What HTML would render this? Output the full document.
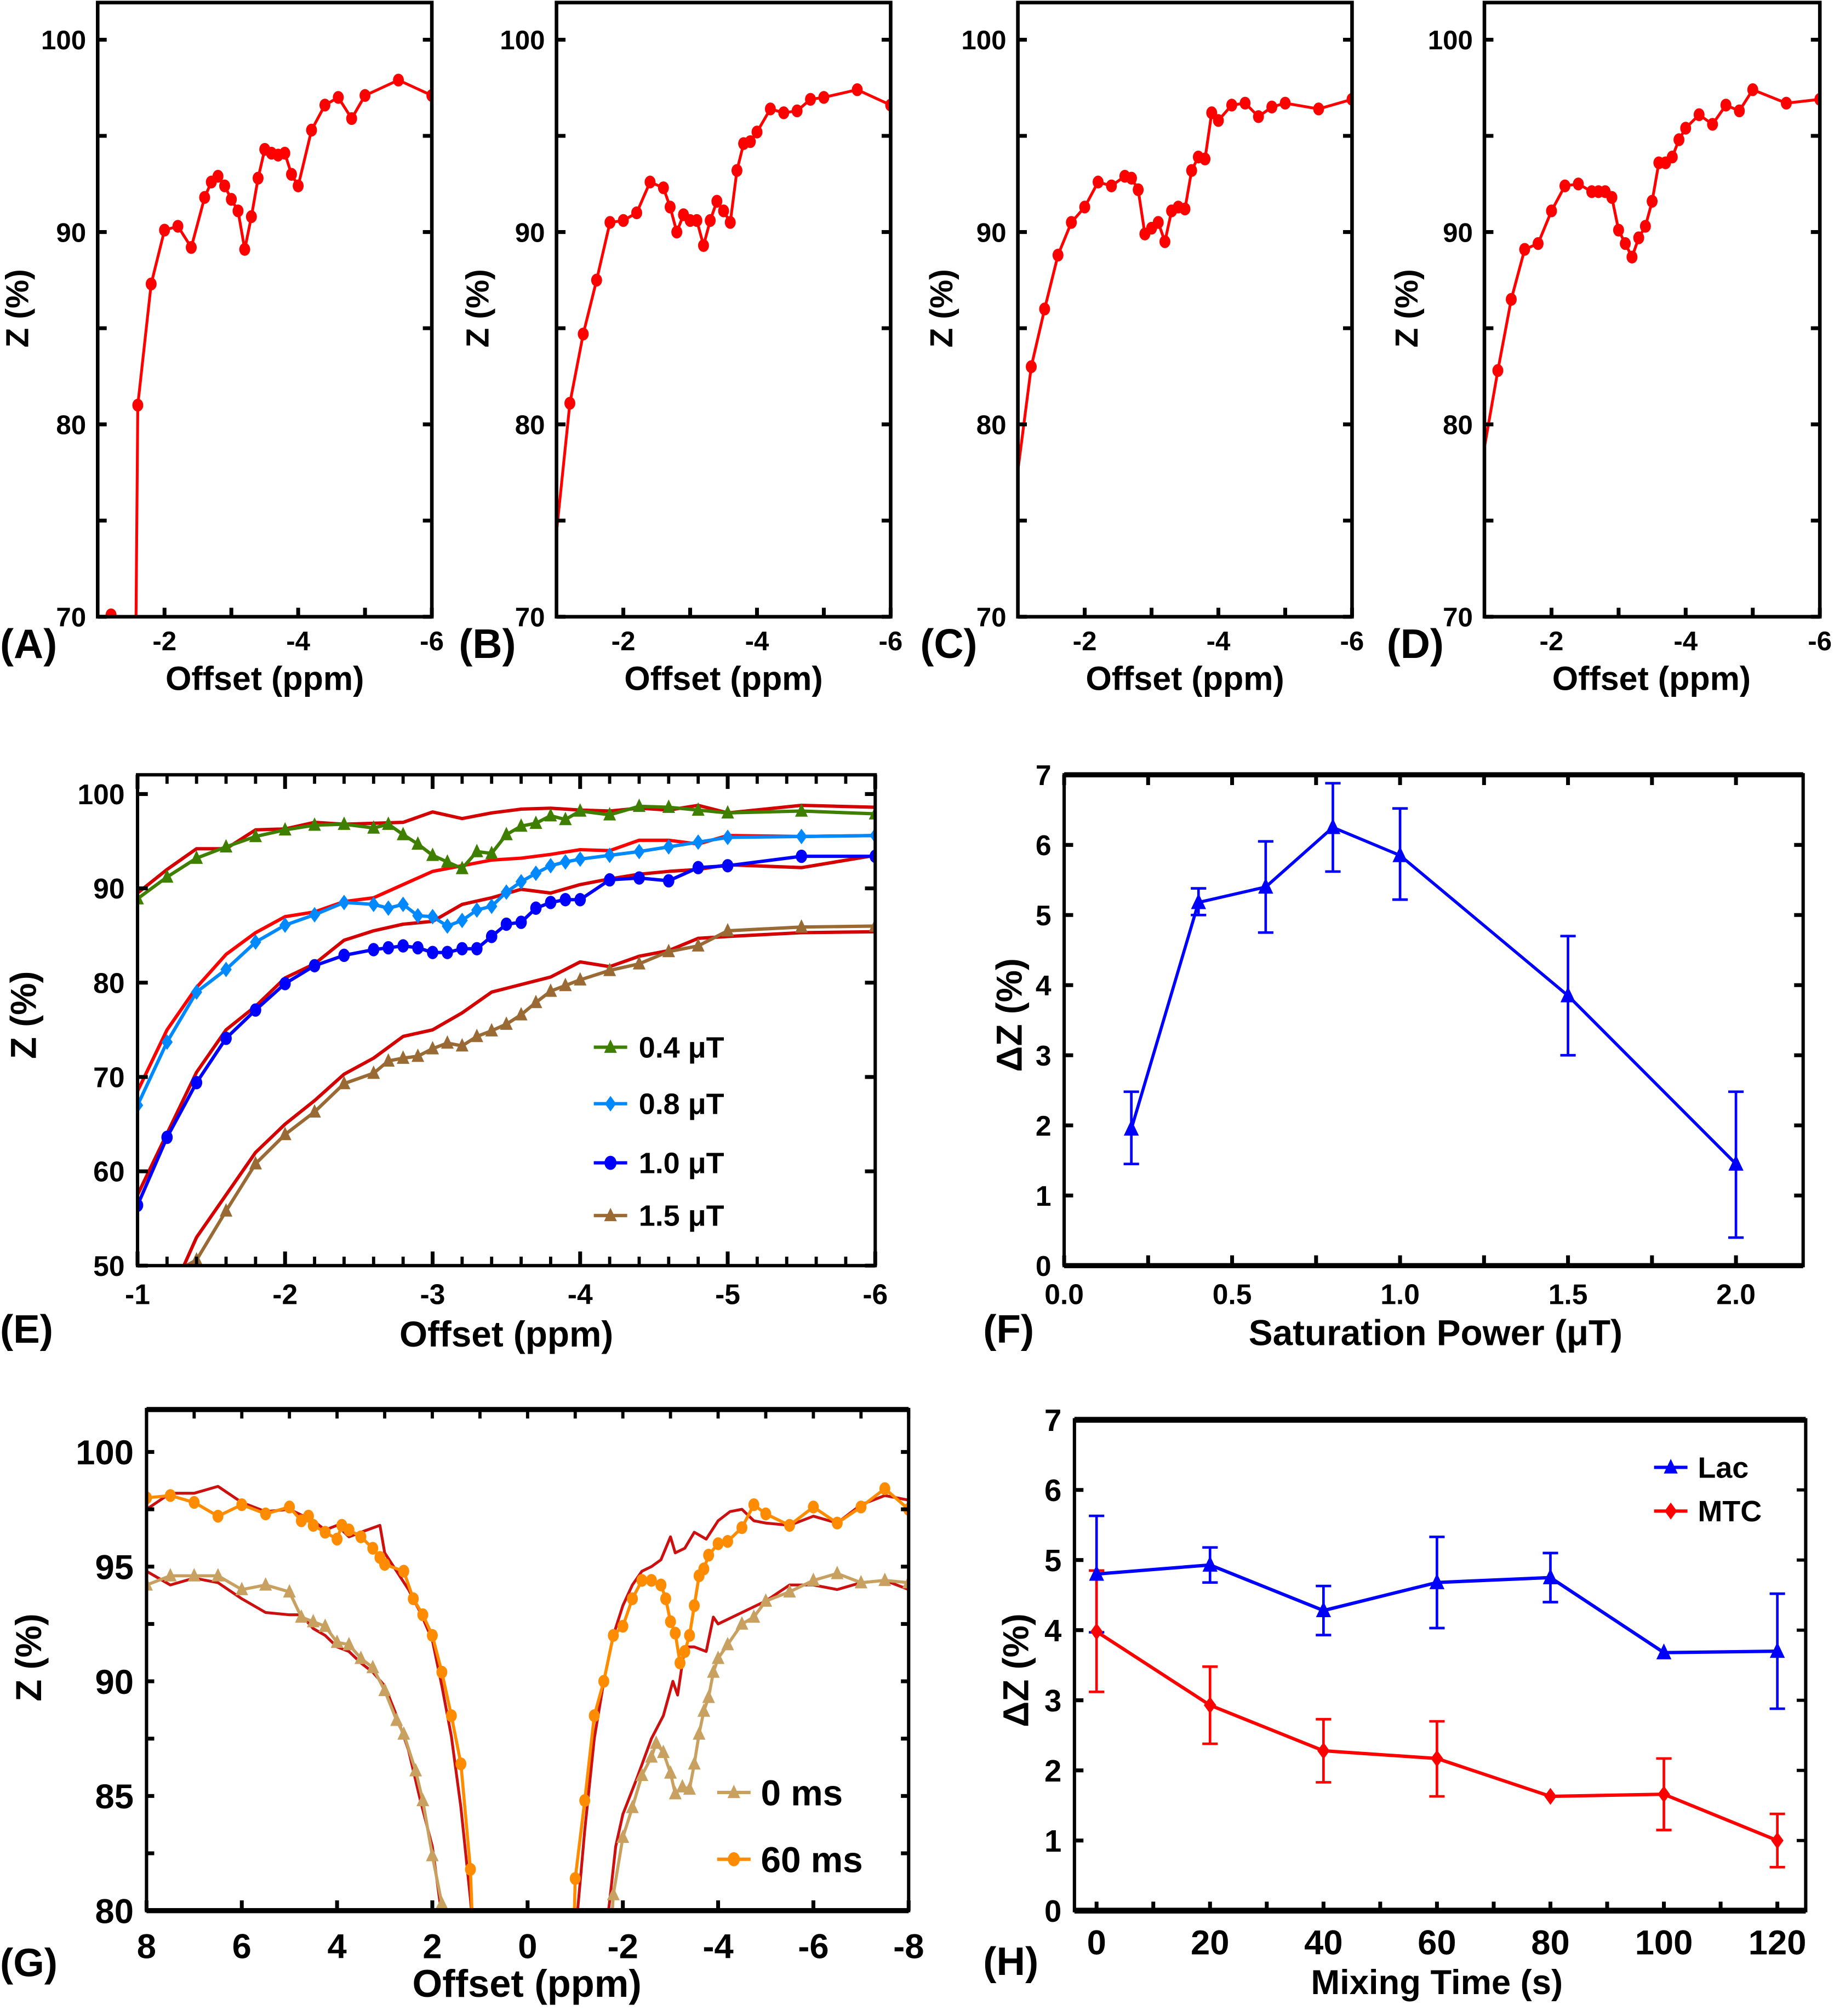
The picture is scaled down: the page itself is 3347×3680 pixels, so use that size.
<!DOCTYPE html>
<html><head><meta charset="utf-8">
<style>
html,body{margin:0;padding:0;background:#fff;}
svg{display:block;}
text{font-family:"Liberation Sans",Arial,sans-serif;font-weight:bold;fill:#000;}
</style></head>
<body>
<svg id="fig" xmlns="http://www.w3.org/2000/svg" width="3347" height="3680" viewBox="0 0 1427 1569"></svg>
<script>
// ---- Panel A-D data ----
const offA=[-1.2,-1.6,-1.8,-2.0,-2.2,-2.4,-2.6,-2.7,-2.8,-2.9,-3.0,-3.1,-3.2,-3.3,-3.4,-3.5,-3.6,-3.7,-3.8,-3.9,-4.0,-4.2,-4.4,-4.6,-4.8,-5.0,-5.5,-6.0];
const zA=[70.1,81.0,87.3,90.1,90.3,89.2,91.8,92.6,92.9,92.4,91.7,91.1,89.1,90.8,92.8,94.3,94.1,94.0,94.1,93.0,92.4,95.3,96.6,97.0,95.9,97.1,97.9,97.1];
const offB=[-1.2,-1.4,-1.6,-1.8,-2.0,-2.2,-2.4,-2.6,-2.7,-2.8,-2.9,-3.0,-3.1,-3.2,-3.3,-3.4,-3.5,-3.6,-3.7,-3.8,-3.9,-4.0,-4.2,-4.4,-4.6,-4.8,-5.0,-5.5,-6.0];
const zB=[81.1,84.7,87.5,90.5,90.6,91.0,92.6,92.3,91.3,90.0,90.9,90.6,90.6,89.3,90.6,91.6,91.1,90.5,93.2,94.6,94.7,95.2,96.4,96.2,96.3,96.9,97.0,97.4,96.6];
const offC=[-1.2,-1.4,-1.6,-1.8,-2.0,-2.2,-2.4,-2.6,-2.7,-2.8,-2.9,-3.0,-3.1,-3.2,-3.3,-3.4,-3.5,-3.6,-3.7,-3.8,-3.9,-4.0,-4.2,-4.4,-4.6,-4.8,-5.0,-5.5,-6.0];
const zC=[83.0,86.0,88.8,90.5,91.3,92.6,92.4,92.9,92.8,92.2,89.9,90.2,90.5,89.5,91.1,91.3,91.2,93.2,93.9,93.8,96.2,95.8,96.6,96.7,96.0,96.5,96.7,96.4,96.9];
const offD=[-1.2,-1.4,-1.6,-1.8,-2.0,-2.2,-2.4,-2.6,-2.7,-2.8,-2.9,-3.0,-3.1,-3.2,-3.3,-3.4,-3.5,-3.6,-3.7,-3.8,-3.9,-4.0,-4.2,-4.4,-4.6,-4.8,-5.0,-5.5,-6.0];
const zD=[82.8,86.5,89.1,89.4,91.1,92.4,92.5,92.1,92.1,92.1,91.8,90.1,89.4,88.7,89.7,90.3,91.6,93.6,93.6,93.9,94.8,95.4,96.1,95.6,96.6,96.3,97.4,96.7,96.9];
const leadA=[[-1.55,60],[-1.6,81.0]];
const leadB=[[-1.0,74.4],[-1.2,81.1]];
const leadC=[[-1.0,77.6],[-1.2,83.0]];
const leadD=[[-1.0,78.8],[-1.2,82.8]];

// ---- Panel E data ----
const offE=[-1.0,-1.2,-1.4,-1.6,-1.8,-2.0,-2.2,-2.4,-2.6,-2.7,-2.8,-2.9,-3.0,-3.1,-3.2,-3.3,-3.4,-3.5,-3.6,-3.7,-3.8,-3.9,-4.0,-4.2,-4.4,-4.6,-4.8,-5.0,-5.5,-6.0];
const zE04=[88.9,91.2,93.2,94.4,95.5,96.2,96.7,96.8,96.4,96.8,95.7,94.7,93.5,92.8,92.1,93.9,93.7,95.7,96.6,96.9,97.7,97.3,98.2,97.8,98.7,98.6,98.3,98.0,98.2,97.9];
const zE08=[67.0,73.7,79.0,81.4,84.3,86.1,87.2,88.5,88.3,87.9,88.3,87.1,87.0,86.0,86.6,87.7,88.1,89.6,90.7,91.6,92.4,92.8,93.1,93.5,93.9,94.4,94.9,95.4,95.5,95.6];
const zE10=[56.4,63.6,69.4,74.1,77.1,79.9,81.8,82.9,83.5,83.7,83.9,83.7,83.2,83.2,83.6,83.6,84.9,86.2,86.4,87.9,88.5,88.8,88.8,90.9,91.1,90.8,92.2,92.4,93.4,93.4];
const offE15=[-1.4,-1.6,-1.8,-2.0,-2.2,-2.4,-2.6,-2.7,-2.8,-2.9,-3.0,-3.1,-3.2,-3.3,-3.4,-3.5,-3.6,-3.7,-3.8,-3.9,-4.0,-4.2,-4.4,-4.6,-4.8,-5.0,-5.5,-6.0];
const zE15=[50.6,55.8,60.8,63.9,66.3,69.3,70.4,71.7,72.0,72.2,73.0,73.6,73.3,74.3,74.9,75.6,76.6,77.9,79.1,79.7,80.3,81.3,82.0,83.3,83.9,85.5,85.9,86.0];
const offFit=[-1.0,-1.2,-1.4,-1.6,-1.8,-2.0,-2.2,-2.4,-2.6,-2.8,-3.0,-3.2,-3.4,-3.6,-3.8,-4.0,-4.2,-4.4,-4.6,-4.8,-5.0,-5.5,-6.0];
const fit04=[89.5,92.0,94.2,94.2,96.2,96.3,97.0,96.8,96.9,97.0,98.1,97.4,98.0,98.4,98.5,98.3,98.2,98.5,98.3,98.8,98.0,98.8,98.6];
const fit08=[68.5,75.0,79.5,83.0,85.3,87.0,87.5,88.6,89.0,90.4,91.8,92.4,93.0,93.2,93.6,94.1,94.0,95.1,95.1,94.7,95.6,95.5,95.6];
const fit10=[57.5,64.0,70.5,75.0,77.5,80.5,82.0,84.5,85.5,86.2,86.5,88.3,89.0,89.9,89.5,90.4,91.0,91.5,91.8,92.0,92.5,92.2,93.5];
const fit15=[40.0,46.0,53.0,57.5,62.0,65.0,67.5,70.3,72.0,74.3,75.0,76.8,79.0,79.8,80.6,82.2,81.7,82.8,83.4,84.7,84.9,85.3,85.4];

// ---- Panel F data ----
const powF=[0.2,0.4,0.6,0.8,1.0,1.5,2.0];
const dzF=[1.95,5.18,5.4,6.25,5.85,3.85,1.45];
const loF=[1.45,5.0,4.75,5.62,5.22,3.0,0.4];
const hiF=[2.48,5.38,6.05,6.88,6.52,4.7,2.48];

// ---- Panel G data ----
const offG0=[8,7.5,7,6.5,6,5.5,5,4.75,4.5,4.25,4,3.75,3.5,3.25,3,2.75,2.6,2.35,2.2,2,1.8,-1.8,-2,-2.2,-2.4,-2.6,-2.7,-2.85,-3,-3.1,-3.25,-3.4,-3.5,-3.6,-3.7,-3.8,-3.9,-4,-4.2,-4.5,-4.75,-5,-5.5,-6,-6.5,-7,-7.5,-8];
const zG0=[94.2,94.6,94.6,94.6,94.0,94.2,93.9,92.8,92.6,92.4,91.7,91.6,91.0,90.6,89.6,88.3,87.7,86.1,84.8,82.4,80.3,80.7,83.2,84.5,85.9,86.7,87.3,86.9,86.0,85.1,85.4,85.3,86.4,87.7,88.7,89.3,90.4,91.0,91.6,92.5,92.8,93.5,93.9,94.4,94.7,94.3,94.4,94.3];
const offG60=[8,7.5,7,6.5,6,5.5,5,4.75,4.6,4.5,4.25,4,3.9,3.75,3.5,3.25,3.1,3,2.6,2.4,2.2,2,1.8,1.6,1.4,1.2,-1,-1.2,-1.4,-1.6,-1.8,-2,-2.2,-2.4,-2.6,-2.8,-2.9,-3,-3.1,-3.2,-3.3,-3.4,-3.5,-3.6,-3.7,-3.8,-4,-4.2,-4.5,-4.75,-5,-5.5,-6,-6.5,-7,-7.5,-8];
const zG60=[98.0,98.1,97.8,97.2,97.7,97.3,97.6,97.0,97.2,96.8,96.5,96.2,96.8,96.6,96.3,95.8,95.4,95.1,94.8,93.6,92.9,92.0,90.4,88.5,86.4,81.8,81.4,84.8,88.5,90.0,92.0,92.4,93.6,94.4,94.4,94.2,93.6,92.6,92.1,90.8,91.3,92.0,93.3,94.6,94.9,95.5,96.0,96.1,96.7,97.7,97.3,96.8,97.6,96.9,97.6,98.4,97.5];
const offFitG0=[8,7.5,7,6.5,6,5.5,5,4.75,4.5,4.25,4,3.75,3.5,3.25,3,2.75,2.5,2.25,2,1.75,1.6,-1.6,-1.7,-1.85,-2,-2.3,-2.6,-2.85,-3.05,-3.15,-3.3,-3.5,-3.75,-3.9,-4,-4.5,-5,-5.5,-6,-6.5,-7,-7.5,-8];
const fitG0=[94.8,94.2,94.5,94.3,93.6,93.0,92.9,92.9,92.3,92.0,91.5,91.3,90.8,90.4,89.8,88.5,87.0,84.8,82.8,79.0,76,76,80,82.8,84.2,85.8,87.5,88.5,90.0,89.4,91.5,91.5,91.3,92.8,92.5,93.0,93.5,94.2,94.2,94.0,94.3,94.4,94.0];
const offFitG60=[8,7.5,7,6.5,6,5.5,5,4.5,4.25,4,3.75,3.5,3.1,3,2.75,2.5,2.25,2,1.8,1.6,1.4,1.2,1.0,-0.95,-1.05,-1.2,-1.4,-1.6,-1.8,-2.0,-2.2,-2.4,-2.6,-2.8,-3.0,-3.1,-3.3,-3.5,-3.75,-4,-4.25,-4.5,-4.75,-5,-5.5,-6,-6.5,-7,-7.5,-8];
const fitG60=[97.5,98.2,98.2,98.5,97.8,97.4,97.5,97.0,96.6,96.8,96.3,96.5,96.8,95.6,94.8,94.0,93.0,91.8,89.8,87.6,84.5,80.5,76,76,80.0,83.5,87.5,90.0,92.0,93.3,94.2,94.8,95.0,95.3,96.3,95.6,95.8,96.5,96.2,97.0,97.4,97.5,97.0,96.9,96.8,97.2,96.9,97.7,98.1,97.9];

// ---- Panel H data ----
const timeH=[0,20,40,60,80,100,120];
const lacH=[4.8,4.93,4.28,4.68,4.75,3.68,3.7];
const lacLo=[3.97,4.68,3.93,4.03,4.4,3.68,2.88];
const lacHi=[5.63,5.18,4.63,5.33,5.1,3.68,4.52];
const mtcH=[3.98,2.93,2.28,2.17,1.63,1.66,1.0];
const mtcLo=[3.12,2.38,1.83,1.63,1.63,1.15,0.62];
const mtcHi=[4.85,3.48,2.73,2.7,1.63,2.17,1.38];

const NS='http://www.w3.org/2000/svg';
const svg=document.getElementById('fig');
function mk(tag,attrs,parent){const e=document.createElementNS(NS,tag);for(const k in attrs)e.setAttribute(k,attrs[k]);(parent||svg).appendChild(e);return e;}
let clipN=0;

function makeAxes(name,x0,x1,y0,y1,xmin,xmax,ymin,ymax){
  const g=mk('g',{});
  
  
  const sx=v=>x0+(v-xmin)/(xmax-xmin)*(x1-x0);
  const sy=v=>y1-(v-ymin)/(ymax-ymin)*(y1-y0);
  const id='clip'+(clipN++);
  const cp=mk('clipPath',{id:id},g);
  mk('rect',{x:x0,y:y0,width:x1-x0,height:y1-y0},cp);
  const plot=mk('g',{'clip-path':'url(#'+id+')'},g);
  return {g,plot,sx,sy,x0,x1,y0,y1};
}
function frame(ax,top){
  const f=mk('rect',{x:ax.x0,y:ax.y0,width:ax.x1-ax.x0,height:ax.y1-ax.y0,fill:'none',stroke:'#000','stroke-width':top||2.6},ax.g);
  
  
}
function yTicks(ax,vals,labels,fs,len,both,dx){
  vals.forEach((v,i)=>{
    const y=ax.sy(v);
    mk('line',{x1:ax.x0,x2:ax.x0+len,y1:y,y2:y,stroke:'#000','stroke-width':3},ax.g);
    if(both)mk('line',{x1:ax.x1,x2:ax.x1-len,y1:y,y2:y,stroke:'#000','stroke-width':3},ax.g);
    if(labels&&labels[i]!==''){
      const t=mk('text',{x:ax.x0-(dx||8),y:y+fs*0.36,'text-anchor':'end','font-size':fs},ax.g);
      t.textContent=labels[i];
      
      
    }
  });
}
function xTicks(ax,vals,labels,fs,len,ly,top){
  vals.forEach((v,i)=>{
    const x=ax.sx(v);
    mk('line',{x1:x,x2:x,y1:ax.y1,y2:ax.y1-len,stroke:'#000','stroke-width':3},ax.g);
    if(top)mk('line',{x1:x,x2:x,y1:ax.y0,y2:ax.y0+len,stroke:'#000','stroke-width':3},ax.g);
    if(labels&&labels[i]!==''){
      const t=mk('text',{x:x,y:ly,'text-anchor':'middle','font-size':fs},ax.g);
      t.textContent=labels[i];
      
      
    }
  });
}
function minorTicks(ax,vals,len,axis,both){
  vals.forEach(v=>{
    if(axis==='x'){const x=ax.sx(v);mk('line',{x1:x,x2:x,y1:ax.y0,y2:ax.y0+len,stroke:'#000','stroke-width':2.5},ax.g);
      if(both)mk('line',{x1:x,x2:x,y1:ax.y1,y2:ax.y1-len,stroke:'#000','stroke-width':2.5},ax.g);}
    else{const y=ax.sy(v);mk('line',{x1:ax.x1,x2:ax.x1-len,y1:y,y2:y,stroke:'#000','stroke-width':2.5},ax.g);}
  });
}
function text(str,x,y,fs,name,opts){
  const t=mk('text',Object.assign({x:x,y:y,'font-size':fs},opts||{}));
  t.textContent=str;
  
  
  return t;
}
function ylabel(str,x,y,fs,name){
  const t=mk('text',{x:0,y:0,'font-size':fs,'text-anchor':'middle',transform:'translate('+x+','+y+') rotate(-90)'});
  t.textContent=str;
  
  
}
function line(ax,xs,ys,color,w,name){
  const p=mk('polyline',{points:xs.map((x,i)=>ax.sx(x)+','+ax.sy(ys[i])).join(' '),fill:'none',stroke:color,'stroke-width':w,'stroke-linejoin':'round'},ax.plot);
  
  
}
function marker(parent,shape,x,y,s,color){
  let e;
  if(shape==='circle'){e=mk('ellipse',{cx:x,cy:y,rx:s*0.85,ry:s,fill:color},parent);}
  else if(shape==='tri'){e=mk('polygon',{points:(x)+','+(y-s*1.1)+' '+(x-s*0.9)+','+(y+s*0.8)+' '+(x+s*0.9)+','+(y+s*0.8),fill:color},parent);}
  else {e=mk('polygon',{points:x+','+(y-s*1.1)+' '+(x+s*0.8)+','+y+' '+x+','+(y+s*1.1)+' '+(x-s*0.8)+','+y,fill:color},parent);}
  
  
}
function markers(ax,xs,ys,shape,s,color){xs.forEach((x,i)=>marker(ax.plot,shape,ax.sx(x),ax.sy(ys[i]),s,color));}
function errbars(ax,xs,lo,hi,color){
  xs.forEach((x,i)=>{
    const X=ax.sx(x),a=ax.sy(lo[i]),b=ax.sy(hi[i]);
    if(Math.abs(a-b)<1)return;
    const e=mk('path',{d:'M'+X+','+a+'V'+b+'M'+(X-6)+','+a+'H'+(X+6)+'M'+(X-6)+','+b+'H'+(X+6),stroke:color,'stroke-width':2,fill:'none'},ax.plot);
    
    
  });
}

// ---- A-D ----
const small=[
 {n:'A',x0:76,x1:336,off:offA,z:zA,lead:leadA,lab:14},
 {n:'B',x0:433,x1:693,off:offB,z:zB,lead:leadB,lab:372},
 {n:'C',x0:792,x1:1052,off:offC,z:zC,lead:leadC,lab:733},
 {n:'D',x0:1155,x1:1416,off:offD,z:zD,lead:leadD,lab:1095}];
small.forEach(p=>{
  const ax=makeAxes('panel-'+p.n.toLowerCase(),p.x0,p.x1,2,480,-1,-6,70,101.93);
  line(ax,p.lead.map(d=>d[0]).concat(p.off.slice(p.n==='A'?1:0)),p.lead.map(d=>d[1]).concat(p.z.slice(p.n==='A'?1:0)),'#f00',2.2,'z-spectrum-line');
  markers(ax,p.off,p.z,'circle',5,'#f00');
  frame(ax,2.8);
  yTicks(ax,[70,75,80,85,90,95,100],['70','','80','','90','','100'],21,7,true,9);
  xTicks(ax,[-2,-3,-4,-5,-6],['-2','','-4','','-6'],21,7,506,false);
  ylabel('Z (%)',p.lab+8,240,25,'y-axis-title');
  text('Offset (ppm)',p.x0+130,537,26,'x-axis-title',{'text-anchor':'middle'});
  text('('+p.n+')',p.x0-76,512,32,'panel-label');
});

// ---- E ----
(function(){
  const ax=makeAxes('panel-e',107,681,603,985,-1,-6,50,102.04);
  line(ax,offFit,fit04,'#d40000',2.6,'fit-0.4uT');
  line(ax,offFit,fit08,'#ff0000',2.6,'fit-0.8uT');
  line(ax,offFit,fit10,'#d40000',2.6,'fit-1.0uT');
  line(ax,offFit,fit15,'#d40000',2.6,'fit-1.5uT');
  line(ax,offE,zE04,'#3f7f00',2.6,'series-0.4uT');
  line(ax,offE,zE08,'#0088ff',2.6,'series-0.8uT');
  line(ax,offE,zE10,'#0000ff',2.6,'series-1.0uT');
  line(ax,[-1.33].concat(offE15),[50].concat(zE15),'#9a6a35',2.6,'series-1.5uT');
  markers(ax,offE,zE04,'tri',5.5,'#3f7f00');
  markers(ax,offE,zE08,'dia',5.5,'#0088ff');
  markers(ax,offE,zE10,'circle',5.2,'#0000ff');
  markers(ax,offE15,zE15,'tri',5.5,'#9a6a35');
  frame(ax,2.6);
  const minor=[];for(let i=0;i<=25;i++)minor.push(-1-i*0.2);
  minorTicks(ax,minor,7,'x',true);
  yTicks(ax,[50,60,70,80,90,100],['50','60','70','80','90','100'],22,8,true,10);
  xTicks(ax,[-1,-2,-3,-4,-5,-6],['-1','-2','-3','-4','-5','-6'],22,11,1015,true);
  ylabel('Z (%)',28,790,28,'y-axis-title');
  text('Offset (ppm)',394,1048,28,'x-axis-title',{'text-anchor':'middle'});
  text('(E)',0,1045,31,'panel-label');
  const leg=[['0.4 μT','tri','#3f7f00',815],['0.8 μT','dia','#0088ff',859],['1.0 μT','circle','#0000ff',905],['1.5 μT','tri','#9a6a35',946]];
  leg.forEach(l=>{
    mk('line',{x1:462,x2:488,y1:l[3],y2:l[3],stroke:l[2],'stroke-width':2.6});
    marker(svg,l[1],475,l[3],5.5,l[2]);
    text(l[0],497,l[3]+8,23,'legend-entry');
  });
})();

// ---- F ----
(function(){
  const ax=makeAxes('panel-f',828,1403,603,985,0,2.2,0,7);
  errbars(ax,powF,loF,hiF,'#0000ff');
  line(ax,powF,dzF,'#0000ff',2.4,'delta-z-line');
  markers(ax,powF,dzF,'tri',6.5,'#0000ff');
  frame(ax,2.6);
  mk('line',{x1:828,x2:1403,y1:603,y2:603,stroke:'#000','stroke-width':4});
  mk('line',{x1:828,x2:1403,y1:985,y2:985,stroke:'#000','stroke-width':4});
  yTicks(ax,[0,1,2,3,4,5,6,7],['0','1','2','3','4','5','6','7'],22,7,true,10);
  xTicks(ax,[0,0.25,0.5,0.75,1,1.25,1.5,1.75,2],['0.0','','0.5','','1.0','','1.5','','2.0'],22,8,1015,true);
  ylabel('ΔZ (%)',795,790,28,'y-axis-title');
  text('Saturation Power (μT)',1117,1047,28,'x-axis-title',{'text-anchor':'middle'});
  text('(F)',765,1045,31,'panel-label');
})();

// ---- G ----
(function(){
  const ax=makeAxes('panel-g',114,707,1097,1487,8,-8,80,101.85);
  line(ax,offFitG0,fitG0,'#cc1010',2.2,'fit-0ms');
  line(ax,offFitG60,fitG60,'#cc1010',2.2,'fit-60ms');
  line(ax,offG0.slice(0,21).concat([1.75]),zG0.slice(0,21).concat([79]),'#c8a060',2.4,'series-0ms-pos');
  line(ax,[-1.75].concat(offG0.slice(21)),[79].concat(zG0.slice(21)),'#c8a060',2.4,'series-0ms-neg');
  line(ax,offG60.slice(0,26).concat([1.15]),zG60.slice(0,26).concat([79]),'#ff8c00',2.4,'series-60ms-pos');
  line(ax,[-0.97].concat(offG60.slice(26)),[79].concat(zG60.slice(26)),'#ff8c00',2.4,'series-60ms-neg');
  markers(ax,offG0,zG0,'tri',5.5,'#c8a060');
  markers(ax,offG60,zG60,'circle',5,'#ff8c00');
  frame(ax,2.6);
  mk('line',{x1:114,x2:707,y1:1097,y2:1097,stroke:'#000','stroke-width':4});
  mk('line',{x1:114,x2:707,y1:1487,y2:1487,stroke:'#000','stroke-width':4});
  minorTicks(ax,[8,7,6,5,4,3,2,1,0,-1,-2,-3,-4,-5,-6,-7,-8],7,'x',false);
  yTicks(ax,[80,82.5,85,87.5,90,92.5,95,97.5,100],['80','','85','','90','','95','','100'],27,6,true,10);
  xTicks(ax,[8,6,4,2,0,-2,-4,-6,-8],['8','6','4','2','0','-2','-4','-6','-8'],27,8,1524,false);
  ylabel('Z (%)',32,1290,28,'y-axis-title');
  text('Offset (ppm)',410,1554,30,'x-axis-title',{'text-anchor':'middle'});
  text('(G)',0,1538,31,'panel-label');
  const leg=[['0 ms','tri','#c8a060',1395],['60 ms','circle','#ff8c00',1447]];
  leg.forEach(l=>{
    mk('line',{x1:558,x2:584,y1:l[3],y2:l[3],stroke:l[2],'stroke-width':2.6});
    marker(svg,l[1],571,l[3],5.5,l[2]);
    text(l[0],592,l[3]+10,28,'legend-entry');
  });
})();

// ---- H ----
(function(){
  const ax=makeAxes('panel-h',836,1405,1105,1487,-3.9,125,0,7);
  errbars(ax,timeH,lacLo,lacHi,'#0000ff');
  errbars(ax,timeH,mtcLo,mtcHi,'#ff0000');
  line(ax,timeH,lacH,'#0000ff',2.6,'lac-line');
  line(ax,timeH,mtcH,'#ff0000',2.6,'mtc-line');
  markers(ax,timeH,lacH,'tri',6.5,'#0000ff');
  markers(ax,timeH,mtcH,'dia',6,'#ff0000');
  frame(ax,2.6);
  mk('line',{x1:836,x2:1405,y1:1105,y2:1105,stroke:'#000','stroke-width':4.5});
  mk('line',{x1:836,x2:1405,y1:1487,y2:1487,stroke:'#000','stroke-width':4.5});
  yTicks(ax,[0,1,2,3,4,5,6,7],['0','1','2','3','4','5','6','7'],24,7,false,10);
  minorTicks(ax,[1,2,3,4,5,6],7,'y');
  xTicks(ax,[0,10,20,30,40,50,60,70,80,90,100,110,120],['0','','20','','40','','60','','80','','100','','120'],27,7,1521,false);
  ylabel('ΔZ (%)',800,1300,28,'y-axis-title');
  text('Mixing Time (s)',1118,1552,27,'x-axis-title',{'text-anchor':'middle'});
  text('(H)',765,1537,31,'panel-label');
  const leg=[['Lac','tri','#0000ff',1142],['MTC','dia','#ff0000',1176]];
  leg.forEach(l=>{
    mk('line',{x1:1287,x2:1313,y1:l[3],y2:l[3],stroke:l[2],'stroke-width':2.6});
    marker(svg,l[1],1300,l[3],6,l[2]);
    text(l[0],1321,l[3]+8,23,'legend-entry');
  });
})();
</script>
</body></html>
